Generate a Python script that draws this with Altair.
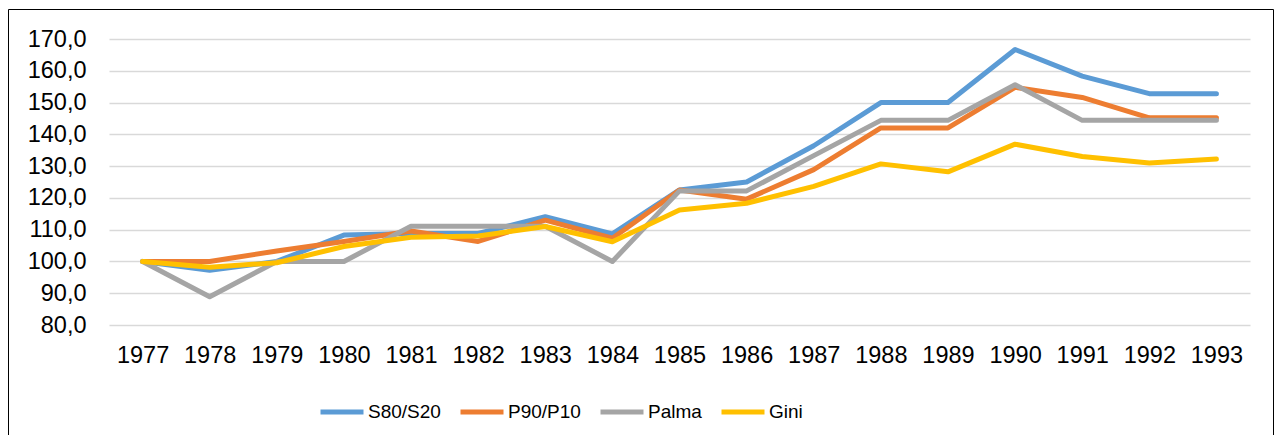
import altair as alt
import pandas as pd

years = [str(y) for y in range(1977, 1994)]
series_names = ["S80/S20", "P90/P10", "Palma", "Gini"]
s80_s20 = [100.0, 97.2, 100.0, 108.3, 108.8, 108.8, 114.1, 108.7, 122.5, 125.0, 136.4, 150.0, 150.0, 166.7, 158.3, 152.8, 152.8]
p90_p10 = [100.0, 100.0, 103.3, 106.3, 109.6, 106.3, 113.0, 107.3, 122.5, 119.6, 128.9, 142.0, 142.0, 154.8, 151.6, 145.2, 145.2]
palma = [100.0, 88.9, 100.0, 100.0, 111.1, 111.1, 111.1, 100.0, 122.2, 122.2, 133.3, 144.4, 144.4, 155.6, 144.4, 144.4, 144.4]
gini = [100.0, 98.2, 99.6, 104.7, 107.6, 108.0, 111.0, 106.2, 116.2, 118.3, 123.6, 130.7, 128.2, 136.9, 133.0, 131.0, 132.2]
colors = ["#5B9BD5", "#ED7D31", "#A5A5A5", "#FFC000"]
y_ticks = [80, 90, 100, 110, 120, 130, 140, 150, 160, 170]

rows = []
for name, vals in zip(series_names, [s80_s20, p90_p10, palma, gini]):
    for yr, v in zip(years, vals):
        rows.append({"year": yr, "series": name, "value": v})
df = pd.DataFrame(rows)

FONT = "Liberation Sans"

lines = alt.Chart(df).mark_line(strokeWidth=5, strokeCap="round", strokeJoin="round").encode(
    x=alt.X("year:O", sort=years, title=None,
            scale=alt.Scale(type="point", padding=0.5),
            axis=alt.Axis(labelAngle=0, ticks=False, domain=False, grid=False,
                          labelFont=FONT, labelFontSize=23.5, labelColor="#000000",
                          labelPadding=18)),
    y=alt.Y("value:Q", title=None,
            scale=alt.Scale(domain=[80, 170], nice=False, zero=False),
            axis=alt.Axis(values=y_ticks, ticks=False, domain=False, grid=True,
                          gridColor="#D9D9D9", gridWidth=1.5,
                          labelFont=FONT, labelFontSize=23.5, labelColor="#000000",
                          labelPadding=23,
                          labelExpr="replace(format(datum.value, '.1f'), '.', ',')")),
    color=alt.Color("series:N", sort=series_names,
                    scale=alt.Scale(domain=series_names, range=colors),
                    legend=alt.Legend(title=None, orient="none", direction="horizontal",
                                      legendX=209, legendY=349,
                                      symbolType="stroke", symbolStrokeWidth=5,
                                      symbolSize=1849, labelFont=FONT,
                                      labelFontSize=19, labelColor="#000000",
                                      labelOffset=2, columnPadding=9, gridAlign="none")),
    detail="series:N",
)

frame_df = pd.DataFrame({"k": [0]})
frame = alt.Chart(frame_df).mark_rect(fill="white", fillOpacity=0, stroke="#000000", strokeWidth=1).encode(
    x=alt.value(-100.5), x2=alt.value(1164.5), y=alt.value(-29.5), y2=alt.value(500)
)

chart = alt.layer(frame, lines).properties(
    width=1141, height=286,
    autosize=alt.AutoSizeParams(type="none"),
    padding={"left": 101, "top": 31, "right": 24, "bottom": 110},
).configure_view(stroke=None)

chart.save("out.html", embed_options={"renderer": "svg", "actions": False})
